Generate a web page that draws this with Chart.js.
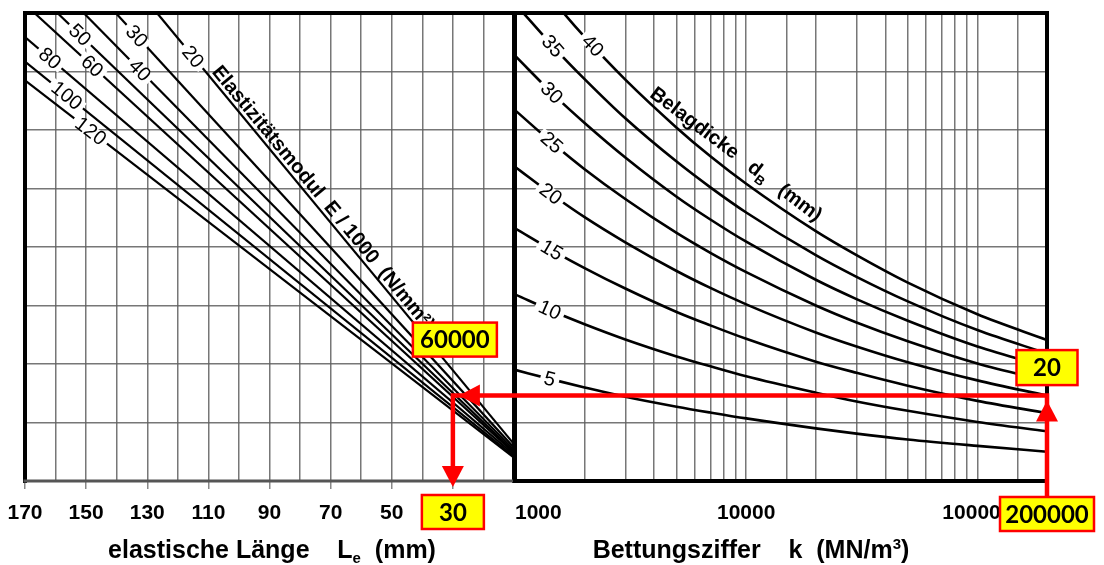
<!DOCTYPE html>
<html>
<head>
<meta charset="utf-8">
<script src="https://cdn.jsdelivr.net/npm/chart.js@4.4.1/dist/chart.umd.min.js"></script>
<style>
  html, body { margin: 0; padding: 0; background: #fff; }
  #wrap { position: relative; width: 1104px; height: 565px; }
  #wrap canvas { position: absolute; left: 0; top: 0; }
</style>
</head>
<body>
<div id="wrap">
  <canvas id="left" width="1104" height="565"></canvas>
  <canvas id="right" width="1104" height="565"></canvas>
</div>
<script>
// left panel: elastische Laenge Le (mm), one straight line per E/1000
var eModuli   = [20, 30, 40, 50, 60, 80, 100, 120];
var lineTopL  = [126.8, 140.3, 150.8, 159.4, 166.9, 170, 170, 170];
var lineTopY  = [8, 8, 8, 8, 8, 7.59, 7.17, 6.85];
var lineEndL  = 10;
var lineEndY  = [0.63, 0.57, 0.53, 0.50, 0.48, 0.45, 0.42, 0.40];
var lengthTicks = [170, 150, 130, 110, 90, 70, 50, 30];
var eLabelAt  = [115, 133.4, 132.4, 152, 148, 161.8, 156.3, 148.5];

// right panel: Bettungsziffer k, one curve per Belagdicke dB
var subgradeK = [1000, 1500, 2000, 3000, 5000, 7000, 10000, 20000, 30000, 50000, 100000, 200000];
var thick5  = [1.90, 1.72, 1.60, 1.44, 1.27, 1.17, 1.07, 0.90, 0.81, 0.71, 0.60, 0.50];
var thick10 = [3.19, 2.88, 2.68, 2.42, 2.13, 1.96, 1.79, 1.51, 1.36, 1.20, 1.01, 0.85];
var thick15 = [4.32, 3.91, 3.64, 3.29, 2.89, 2.66, 2.43, 2.04, 1.85, 1.63, 1.37, 1.16];
var thick20 = [5.37, 4.85, 4.51, 4.08, 3.59, 3.30, 3.02, 2.54, 2.30, 2.03, 1.72, 1.46];
var thick25 = [6.34, 5.73, 5.33, 4.82, 4.24, 3.90, 3.57, 3.00, 2.71, 2.39, 2.01, 1.71];
var thick30 = [7.27, 6.57, 6.12, 5.53, 4.86, 4.47, 4.09, 3.44, 3.11, 2.74, 2.30, 1.95];
var thick35 = [8.16, 7.38, 6.87, 6.20, 5.46, 5.02, 4.59, 3.86, 3.49, 3.07, 2.58, 2.18];
var thick40 = [9.03, 8.16, 7.59, 6.86, 6.04, 5.55, 5.08, 4.27, 3.86, 3.39, 2.85, 2.41];
var thicknesses = [5, 10, 15, 20, 25, 30, 35, 40];
var thickCurves = [thick5, thick10, thick15, thick20, thick25, thick30, thick35, thick40];
var kTicks = [1000, 10000, 100000];
var dLabelAt = [1415, 1415, 1443, 1430, 1443, 1443, 1458, 2170];

// worked example (red path)
var exE = 60, exK = 200000, exD = 20, exL = 30;
var exY = thick20[thick20.length - 1];

var RED = '#ff0000';
var GRID = 'rgba(95,95,95,0.85)';
var FONT = "'Liberation Sans', Arial, sans-serif";
var BOXFONT = "bold 24px Lato, 'Open Sans', sans-serif";

function fixAxis(s) {
  s.height = 84;
  s.paddingLeft = 0;
  s.paddingRight = 0;
}

function alongLine(chart, ds, xValue) {
  var px = chart.scales.x.getPixelForValue(xValue);
  var pts = chart.getDatasetMeta(ds).data;
  for (var j = 0; j < pts.length - 1; j++) {
    var a = pts[j], b = pts[j + 1];
    if ((px - a.x) * (px - b.x) <= 0) {
      var t = (px - a.x) / (b.x - a.x);
      return { x: px, y: a.y + t * (b.y - a.y), angle: Math.atan2(b.y - a.y, b.x - a.x) };
    }
  }
  return null;
}

function tag(ctx, text, p) {
  ctx.save();
  ctx.translate(p.x, p.y);
  ctx.rotate(p.angle);
  ctx.font = '20px ' + FONT;
  var w = ctx.measureText(text).width;
  ctx.fillStyle = '#fff';
  ctx.fillRect(-w / 2 - 4, -6, w + 8, 12);
  ctx.fillStyle = '#000';
  ctx.textAlign = 'center';
  ctx.textBaseline = 'middle';
  ctx.fillText(text, 0, 1);
  ctx.restore();
}

// pieces: [text, fontSize, dy]
function richText(ctx, pieces, x, y, align, weight) {
  var total = 0, i;
  for (i = 0; i < pieces.length; i++) {
    ctx.font = weight + ' ' + pieces[i][1] + 'px ' + FONT;
    total += ctx.measureText(pieces[i][0]).width;
  }
  var cx = align === 'center' ? x - total / 2 : x;
  ctx.textAlign = 'left';
  ctx.textBaseline = 'alphabetic';
  ctx.fillStyle = '#000';
  for (i = 0; i < pieces.length; i++) {
    ctx.font = weight + ' ' + pieces[i][1] + 'px ' + FONT;
    ctx.fillText(pieces[i][0], cx, y + pieces[i][2]);
    cx += ctx.measureText(pieces[i][0]).width;
  }
}

function box(ctx, cx, cy, w, h, text) {
  ctx.save();
  ctx.fillStyle = '#ffff00';
  ctx.fillRect(cx - w / 2, cy - h / 2, w, h);
  ctx.strokeStyle = RED;
  ctx.lineWidth = 2.5;
  ctx.strokeRect(cx - w / 2, cy - h / 2, w, h);
  ctx.fillStyle = '#000';
  ctx.font = BOXFONT;
  ctx.textAlign = 'center';
  ctx.textBaseline = 'middle';
  ctx.fillText(text, cx, cy + 1);
  ctx.restore();
}

function tri(ctx, x1, y1, x2, y2, x3, y3) {
  ctx.beginPath();
  ctx.moveTo(x1, y1); ctx.lineTo(x2, y2); ctx.lineTo(x3, y3);
  ctx.closePath();
  ctx.fill();
}

var leftDecor = {
  id: 'leftDecor',
  afterDatasetsDraw: function(chart) {
    var ctx = chart.ctx, a = chart.chartArea;
    var xs = chart.scales.x, ys = chart.scales.y;

    eModuli.forEach(function(e, i) {
      var p = alongLine(chart, i, eLabelAt[i]);
      if (p) tag(ctx, String(e), p);
    });

    var q = alongLine(chart, 0, 110.5);
    ctx.save();
    ctx.translate(q.x, q.y);
    ctx.rotate(q.angle);
    richText(ctx, [['Elastizitätsmodul  E / 1000  (N/mm²)', 20, 0]], 2, -4, 'left', 'bold');
    ctx.restore();

    ctx.save();
    ctx.lineCap = 'square';
    ctx.strokeStyle = '#000';
    ctx.lineWidth = 4;
    ctx.beginPath();
    ctx.moveTo(a.left, a.bottom); ctx.lineTo(a.left, a.top);
    ctx.lineTo(a.right, a.top); ctx.lineTo(a.right, a.bottom);
    ctx.stroke();
    ctx.strokeStyle = '#555';
    ctx.lineWidth = 3;
    ctx.beginPath(); ctx.moveTo(a.left, a.bottom); ctx.lineTo(a.right, a.bottom); ctx.stroke();

    var xl = xs.getPixelForValue(exL), yr = ys.getPixelForValue(exY);
    ctx.strokeStyle = RED;
    ctx.fillStyle = RED;
    ctx.lineWidth = 4.5;
    ctx.lineCap = 'butt';
    ctx.lineJoin = 'miter';
    ctx.beginPath();
    ctx.moveTo(a.right + 2, yr); ctx.lineTo(xl, yr); ctx.lineTo(xl, a.bottom - 8);
    ctx.stroke();
    tri(ctx, xl + 6, yr, xl + 27, yr - 11, xl + 27, yr + 11);
    tri(ctx, xl, a.bottom + 6, xl - 11, a.bottom - 15, xl + 11, a.bottom - 15);
    ctx.restore();

    box(ctx, xl + 2, yr - 56, 84, 34, String(exE * 1000));
    box(ctx, xl, a.bottom + 31, 62, 34, String(exL));

    richText(ctx, [['elastische Länge    L', 25, 0], ['e', 15, 5], ['  (mm)', 25, 0]], 272, 558, 'center', 'bold');
  }
};

var rightDecor = {
  id: 'rightDecor',
  afterDatasetsDraw: function(chart) {
    var ctx = chart.ctx, a = chart.chartArea;
    var xs = chart.scales.x, ys = chart.scales.y;

    thicknesses.forEach(function(d, i) {
      var p = alongLine(chart, i, dLabelAt[i]);
      if (p) tag(ctx, String(d), p);
    });

    var q = alongLine(chart, 7, 3700);
    ctx.save();
    ctx.translate(q.x, q.y);
    ctx.rotate(0.645);
    richText(ctx, [['Belagdicke   d', 20, 0], ['B', 13, 5], ['   (mm)', 20, 0]], 0, -4, 'left', 'bold');
    ctx.restore();

    ctx.save();
    ctx.lineCap = 'square';
    ctx.strokeStyle = '#000';
    ctx.lineWidth = 4;
    ctx.beginPath();
    ctx.moveTo(a.left, a.top); ctx.lineTo(a.right, a.top);
    ctx.lineTo(a.right, a.bottom); ctx.lineTo(a.left, a.bottom);
    ctx.closePath();
    ctx.stroke();

    var xr = xs.getPixelForValue(exK), yr = ys.getPixelForValue(exY);
    ctx.strokeStyle = RED;
    ctx.fillStyle = RED;
    ctx.lineWidth = 4.5;
    ctx.lineCap = 'butt';
    ctx.lineJoin = 'miter';
    ctx.beginPath();
    ctx.moveTo(xr, a.bottom + 20); ctx.lineTo(xr, yr); ctx.lineTo(a.left - 2, yr);
    ctx.stroke();
    tri(ctx, xr, yr + 5, xr - 11, yr + 26, xr + 11, yr + 26);
    ctx.restore();

    box(ctx, xr, yr - 28, 61, 35, String(exD));
    box(ctx, xr, a.bottom + 33, 94, 34, String(exK));

    richText(ctx, [['Bettungsziffer    k  (MN/m', 25, 0], ['3', 15, -9], [')', 25, 0]], 751, 558, 'center', 'bold');
  }
};

var tickFont = { family: FONT, size: 21, weight: 'bold' };

new Chart(document.getElementById('left'), {
  type: 'line',
  data: {
    datasets: eModuli.map(function(e, i) {
      return {
        label: 'E/1000 = ' + e,
        data: [{ x: lineTopL[i], y: lineTopY[i] }, { x: lineEndL, y: lineEndY[i] }],
        borderColor: '#000', borderWidth: 2.2, pointRadius: 0, fill: false
      };
    })
  },
  options: {
    responsive: false, animation: false, devicePixelRatio: 1,
    layout: { padding: { left: 25, right: 590, top: 13, bottom: 0 } },
    plugins: { legend: { display: false }, tooltip: { enabled: false } },
    scales: {
      x: {
        type: 'linear', reverse: true, min: 10, max: 170,
        ticks: {
          stepSize: 10, autoSkip: false, maxRotation: 0, padding: 12, color: '#000', font: tickFont,
          callback: function(v) { return lengthTicks.indexOf(v) >= 0 ? String(v) : ''; }
        },
        grid: {
          color: GRID, lineWidth: 1.5, tickLength: 8,
          tickColor: function(c) { return c.tick && lengthTicks.indexOf(c.tick.value) >= 0 ? '#888' : 'rgba(0,0,0,0)'; }
        },
        border: { display: false },
        afterFit: fixAxis
      },
      y: {
        min: 0, max: 8,
        ticks: { display: false, stepSize: 1 },
        grid: { color: GRID, lineWidth: 1.5, drawTicks: false },
        border: { display: false }
      }
    }
  },
  plugins: [leftDecor]
});

new Chart(document.getElementById('right'), {
  type: 'line',
  data: {
    datasets: thickCurves.map(function(c, i) {
      return {
        label: 'dB = ' + thicknesses[i],
        data: subgradeK.map(function(k, j) { return { x: k, y: c[j] }; }),
        borderColor: '#000', borderWidth: 2.6, pointRadius: 0, fill: false,
        cubicInterpolationMode: 'monotone'
      };
    })
  },
  options: {
    responsive: false, animation: false, devicePixelRatio: 1,
    layout: { padding: { left: 515, right: 57, top: 13, bottom: 0 } },
    plugins: { legend: { display: false }, tooltip: { enabled: false } },
    scales: {
      x: {
        type: 'logarithmic', min: 1000, max: 200000,
        ticks: {
          autoSkip: false, maxRotation: 0, padding: 12, color: '#000', font: tickFont, align: 'inner',
          callback: function(v) {
            return kTicks.some(function(t) { return Math.abs(t - v) / t < 1e-6; }) ? String(Math.round(v)) : '';
          }
        },
        grid: { color: GRID, lineWidth: 1.5, tickLength: 8, tickColor: 'rgba(0,0,0,0)' },
        border: { display: false },
        afterFit: fixAxis
      },
      y: {
        min: 0, max: 8,
        ticks: { display: false, stepSize: 1 },
        grid: { color: GRID, lineWidth: 1.5, drawTicks: false },
        border: { display: false }
      }
    }
  },
  plugins: [rightDecor]
});
</script>
</body>
</html>
